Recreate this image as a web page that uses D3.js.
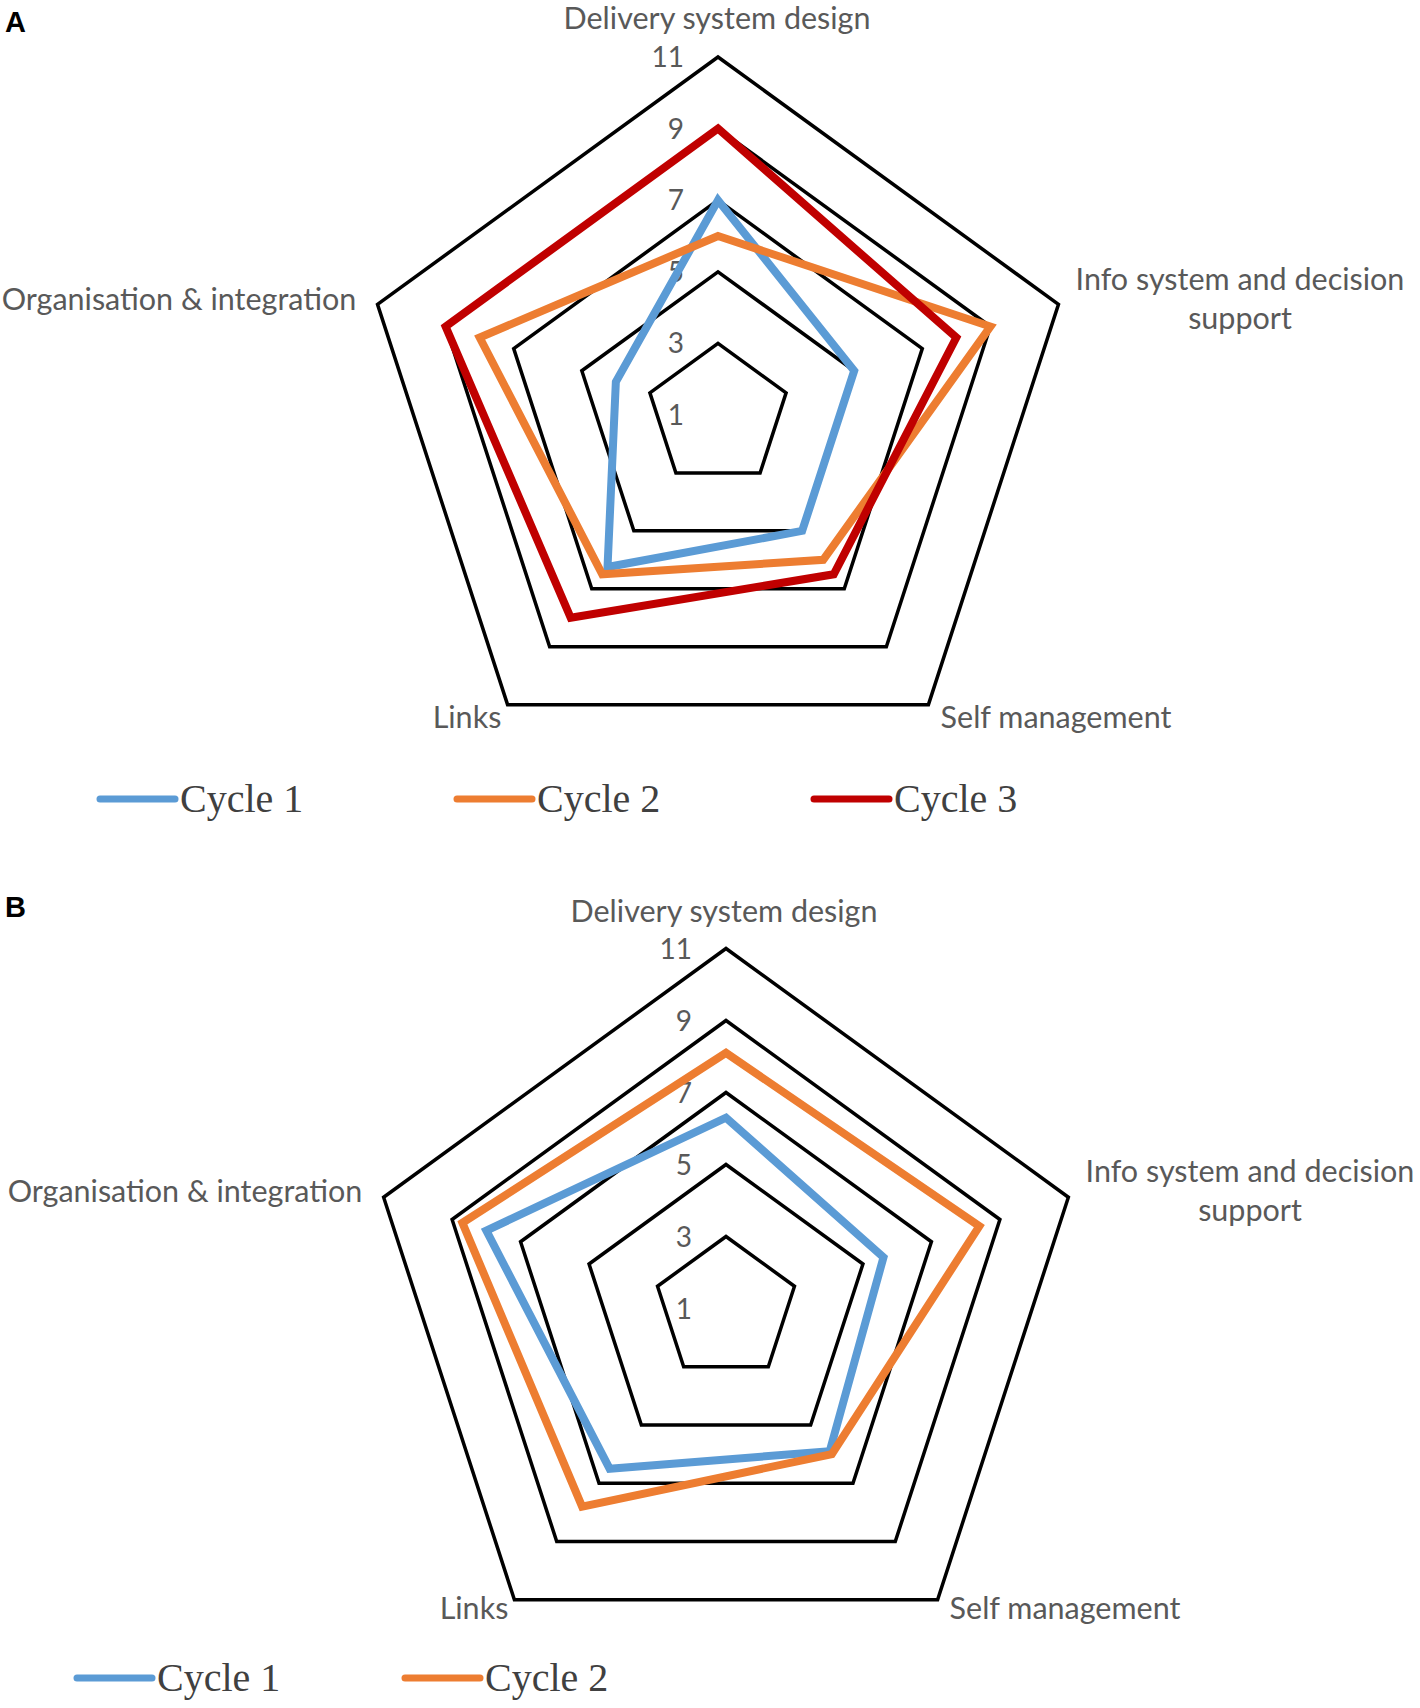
<!DOCTYPE html>
<html>
<head>
<meta charset="utf-8">
<script src="https://cdn.jsdelivr.net/npm/d3@7"></script>
<style>
  html, body { margin: 0; padding: 0; background: #ffffff; }
  svg { display: block; }
</style>
</head>
<body>
<script>
// ---------- data ----------
const axisLabels = [
  ["Delivery system design"],
  ["Info system and decision", "support"],
  ["Self management"],
  ["Links"],
  ["Organisation & integration"]
];
const tickValues = [1, 3, 5, 7, 9, 11];
const seriesNamesA = ["Cycle 1", "Cycle 2", "Cycle 3"];
const cycle1A = [7, 5, 5, 6.25, 4];
const cycle2A = [6, 9, 6, 6.5, 8];
const cycle3A = [9, 8, 6.5, 8, 9];
const seriesNamesB = ["Cycle 1", "Cycle 2"];
const cycle1B = [6.3, 5.6, 5.9, 6.5, 8];
const cycle2B = [8.1, 8.4, 6, 7.8, 8.7];
const seriesColors = ["#5B9BD5", "#ED7D31", "#C00000"];

// ---------- layout ----------
const W = 1420, H = 1708;
const svg = d3.select("body").append("svg")
  .attr("width", W).attr("height", H)
  .attr("viewBox", `0 0 ${W} ${H}`);

const labelFont = "Lato, 'Open Sans', sans-serif";
const textColor = "#595959";

const panels = [
  {
    letter: "A", letterPos: [5, 32],
    cx: 718, cy: 415, R: 358,
    names: seriesNamesA, values: [cycle1A, cycle2A, cycle3A],
    labelPos: [[717, 18], [1240, 279], [1056, 717], [467, 717], [179, 299]],
    legendY: 799,
    legendX: [100, 457, 814]
  },
  {
    letter: "B", letterPos: [5, 917],
    cx: 726, cy: 1308.5, R: 360,
    names: seriesNamesB, values: [cycle1B, cycle2B],
    labelPos: [[724, 911], [1250, 1171], [1065, 1608], [474, 1608], [185, 1191]],
    legendY: 1678,
    legendX: [77, 405]
  }
];

const n = axisLabels.length;
const angle = i => i * 2 * Math.PI / n;

panels.forEach(p => {
  const g = svg.append("g").attr("transform", `translate(${p.cx},${p.cy})`);
  const r = d3.scaleLinear().domain([1, 11]).range([0, p.R]);

  const radial = d3.lineRadial()
    .angle((d, i) => angle(i))
    .radius(d => r(d))
    .curve(d3.curveLinearClosed);

  // grid rings
  g.selectAll("path.ring")
    .data(tickValues.filter(t => t > tickValues[0]))
    .join("path")
    .attr("class", "ring")
    .attr("d", t => radial(d3.range(n).map(() => t)))
    .attr("fill", "none")
    .attr("stroke", "#000")
    .attr("stroke-width", 3.5)
    .attr("stroke-linejoin", "miter");

  // tick labels
  g.selectAll("text.tick")
    .data(tickValues)
    .join("text")
    .attr("class", "tick")
    .attr("x", -34)
    .attr("y", t => -r(t))
    .attr("dy", "0.36em")
    .attr("text-anchor", "end")
    .attr("font-family", labelFont)
    .attr("font-size", 28)
    .attr("fill", textColor)
    .text(t => t);

  // series
  g.selectAll("path.series")
    .data(p.values)
    .join("path")
    .attr("class", "series")
    .attr("d", v => radial(v))
    .attr("fill", "none")
    .attr("stroke", (v, i) => seriesColors[i])
    .attr("stroke-width", 8)
    .attr("stroke-linejoin", "miter");

  // category labels
  axisLabels.forEach((lines, i) => {
    const [x, y] = p.labelPos[i];
    const t = svg.append("text")
      .attr("x", x).attr("y", y)
      .attr("text-anchor", "middle")
      .attr("font-family", labelFont)
      .attr("font-size", 30.5)
      .attr("fill", textColor);
    lines.forEach((ln, k) => {
      t.append("tspan")
        .attr("x", x)
        .attr("y", y + k * 39)
        .attr("dy", "0.36em")
        .text(ln);
    });
  });

  // panel letter
  svg.append("text")
    .attr("x", p.letterPos[0]).attr("y", p.letterPos[1])
    .attr("font-family", "'Liberation Sans', Arial, sans-serif")
    .attr("font-weight", "bold")
    .attr("font-size", 29)
    .attr("fill", "#000")
    .text(p.letter);

  // legend
  p.names.forEach((name, i) => {
    const lx = p.legendX[i];
    svg.append("line")
      .attr("x1", lx).attr("x2", lx + 75)
      .attr("y1", p.legendY).attr("y2", p.legendY)
      .attr("stroke", seriesColors[i])
      .attr("stroke-width", 7)
      .attr("stroke-linecap", "round");
    svg.append("text")
      .attr("x", lx + 80).attr("y", p.legendY)
      .attr("dy", "0.33em")
      .attr("font-family", "'Liberation Serif', 'Times New Roman', serif")
      .attr("font-size", 40)
      .attr("fill", "#404040")
      .text(name);
  });
});
</script>
</body>
</html>
